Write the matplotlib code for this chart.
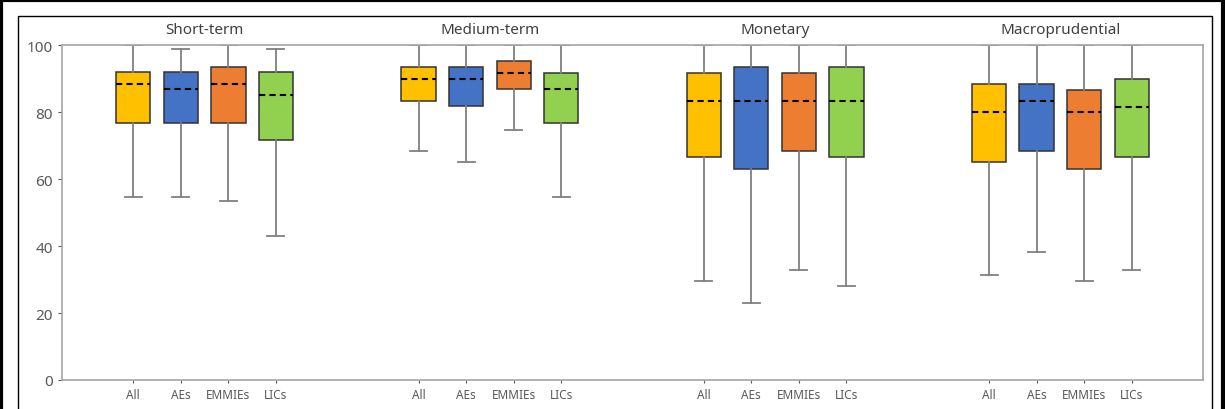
import matplotlib.pyplot as plt
from matplotlib.lines import Line2D
from matplotlib.patches import Rectangle
from matplotlib.transforms import blended_transform_factory

plt.rcParams["font.family"] = ["Noto Sans", "DejaVu Sans"]

groups = ["Short-term", "Medium-term", "Monetary", "Macroprudential"]
members = ["All", "AEs", "EMMIEs", "LICs"]
colors = ["#FFC000", "#4472C4", "#ED7D31", "#92D050"]

# per group: one row per member (All, AEs, EMMIEs, LICs)
whislo = [
    [54.7, 54.7, 53.3, 43.1],
    [68.3, 65.0, 74.7, 54.7],
    [29.6, 22.9, 32.8, 28.0],
    [31.4, 38.1, 29.6, 32.8],
]
q1 = [
    [76.6, 76.6, 76.6, 71.7],
    [83.4, 81.7, 86.9, 76.6],
    [66.5, 63.0, 68.3, 66.5],
    [65.0, 68.3, 63.0, 66.5],
]
med = [
    [88.4, 86.9, 88.4, 85.1],
    [90.0, 90.0, 91.6, 86.9],
    [83.2, 83.2, 83.2, 83.2],
    [79.9, 83.4, 79.9, 81.6],
]
q3 = [
    [91.8, 91.8, 93.5, 91.8],
    [93.5, 93.5, 95.3, 91.6],
    [91.6, 93.5, 91.6, 93.5],
    [88.4, 88.4, 86.7, 90.0],
]
whishi = [
    [100, 98.8, 100, 98.8],
    [100, 100, 100, 100],
    [100, 100, 100, 100],
    [100, 100, 100, 100],
]

fig = plt.figure(figsize=(12.25, 4.10), dpi=100)
ax = fig.add_axes([62 / 1225, 1 - 381 / 410, (1203 - 62) / 1225, (381 - 46) / 410])

grey = "#a6a6a6"
positions, stats, fills, labels = [], [], [], []
for g in range(len(groups)):
    for j, name in enumerate(members):
        positions.append(6 * g + 1.5 + j)
        stats.append(dict(med=med[g][j], q1=q1[g][j], q3=q3[g][j],
                          whislo=whislo[g][j], whishi=whishi[g][j], fliers=[]))
        fills.append(colors[j])
        labels.append(name)

bp = ax.bxp(stats, positions=positions, widths=0.72, patch_artist=True,
            showfliers=False,
            boxprops=dict(edgecolor="#333333", linewidth=1.1),
            medianprops=dict(color="black", linestyle=(0, (3, 2)), linewidth=1.5),
            whiskerprops=dict(color="#808080", linewidth=1.3),
            capprops=dict(color="#808080", linewidth=1.3))
for patch, c in zip(bp["boxes"], fills):
    patch.set_facecolor(c)

ax.set_xlim(0, 24)
ax.set_ylim(0, 100)
ax.set_yticks(range(0, 101, 20))
ax.set_xticks(positions)
ax.set_xticklabels(labels)
ax.tick_params(axis="y", labelsize=11, colors="#595959", length=3, width=0.8)
ax.tick_params(axis="x", labelsize=8.5, colors="#595959", length=2, width=0.8)
for side in ax.spines.values():
    side.set_color(grey)
    side.set_linewidth(1.2)

trans = blended_transform_factory(ax.transData, ax.transAxes)
for g, title in enumerate(groups):
    ax.text(6 * g + 3, 1.045, title, transform=trans, ha="center", va="center",
            fontsize=11, color="#404040")

# thin inner frame, open at the bottom
fig.patches.append(Rectangle((18 / 1225, -0.1), (1212 - 18) / 1225, 1.1 - 17 / 410,
                             transform=fig.transFigure, fill=False,
                             edgecolor="black", linewidth=1.0))
# thick outer frame on left, top and right only
for xs, ys in [([0.001, 0.001], [0, 1]), ([0, 1], [0.997, 0.997]), ([0.998, 0.998], [0, 1])]:
    fig.add_artist(Line2D(xs, ys, transform=fig.transFigure, color="black", linewidth=3))

fig.savefig("out.png", dpi=100)
